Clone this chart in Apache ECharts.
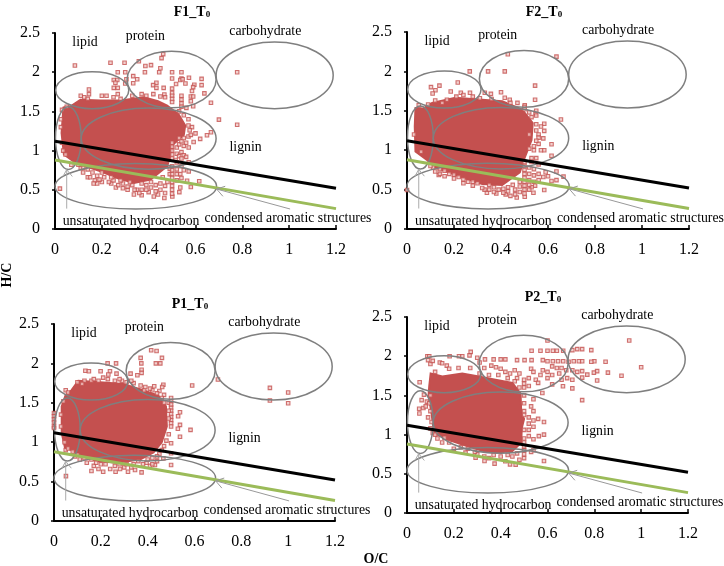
<!DOCTYPE html>
<html><head><meta charset="utf-8">
<style>html,body{margin:0;padding:0;background:#fff}#c{width:724px;height:566px}</style>
<script src="https://cdn.jsdelivr.net/npm/echarts@6/dist/echarts.min.js"></script>
</head><body><div id="c"></div>
<script>
// Values. The solid core of each van Krevelen cloud cannot be resolved
// into individual formulas, so it is a traced outline (xxCloud); xxPoints/xxEdge are squares read by eye.
const f1Cloud = [[.036,1.55],[.07,1.57],[.109,1.65],[.195,1.64],[.28,1.64],[.379,1.68],[.44,1.63],[.479,1.575],[.528,1.46],[.556,1.32],[.55,1.2],[.505,1.08],[.495,.95],[.479,.8],[.408,.63],[.337,.587],[.266,.65],[.195,.736],[.131,.8],[.088,.843],[.038,.95],[.028,1.225]];
const f2Cloud = [[.036,1.536],[.07,1.53],[.107,1.6],[.206,1.664],[.305,1.643],[.405,1.62],[.49,1.515],[.535,1.345],[.53,1.13],[.5,.9],[.48,.72],[.405,.56],[.32,.57],[.249,.64],[.178,.72],[.121,.78],[.085,.877],[.036,.983],[.033,1.3]];
const p1Cloud = [[.05,1.6],[.075,1.66],[.104,1.78],[.196,1.76],[.296,1.74],[.381,1.66],[.445,1.59],[.478,1.455],[.482,1.2],[.46,1.0],[.425,.87],[.367,.78],[.267,.74],[.182,.76],[.125,.82],[.075,.9],[.047,.93],[.033,1.115],[.033,1.455]];
const p2Cloud = [[.095,1.62],[.101,1.78],[.151,1.74],[.236,1.78],[.307,1.74],[.378,1.7],[.45,1.66],[.485,1.523],[.488,1.268],[.5,1.2],[.49,1.08],[.488,.9],[.45,.79],[.38,.77],[.336,.78],[.25,.86],[.179,.93],[.115,1.02],[.105,1.268],[.092,1.5]];

const f1Points = [[.085,2.085],[.237,2.12],[.297,2.12],[.358,2.14],[.462,2.23],[.455,2.18],[.45,2.05],[.445,2],[.386,2.08],[.41,2.09],[.384,2],[.268,2],[.3,2],[.334,1.95],[.351,1.91],[.334,1.86],[.305,1.91],[.3,1.855],[.251,1.9],[.266,1.9],[.258,1.865],[.251,1.8],[.268,1.8],[.268,1.72],[.145,1.78],[.145,1.72],[.5,2],[.54,2],[.5,1.92],[.54,1.92],[.535,1.9],[.545,1.91],[.572,1.93],[.626,1.915],[.626,1.835],[.595,1.84],[.59,1.81],[.557,1.855],[.517,1.85],[.638,1.73],[.585,1.76],[.58,1.69],[.58,1.63],[.59,1.69],[.5,1.79],[.5,1.735],[.5,1.7],[.5,1.66],[.5,1.62],[.464,1.8],[.467,1.715],[.433,1.865],[.419,1.835],[.433,1.8],[.666,1.61],[.7,1.395],[.778,1.33],[.778,2],[.666,1.235],[.649,1.195],[.592,1.11],[.571,1.04],[.59,1.565],[.561,1.545],[.571,.85],[.616,.61],[.571,.735],[.564,.615],[.58,.535],[.535,.53],[.531,.47],[.501,.415],[.467,.395],[.422,.415],[.337,.44],[.021,.515]];
const f1Edge = [[.54,1.7],[.54,1.65],[.54,1.6],[.54,1.56],[.53,1.5],[.55,1.45],[.57,1.4],[.57,1.32],[.585,1.3],[.575,1.26],[.54,.98],[.55,.94],[.56,.92],[.54,.8],[.55,.75],[.535,.7],[.54,.65],[.5,.5],[.5,.45],[.47,.46],[.44,.44],[.4,.47],[.37,.43],[.35,.5],[.31,.5],[.29,.52],[.26,.53],[.24,.58],[.2,.6],[.18,.58],[.17,.62],[.14,.66],[.12,.72],[.11,.78],[.07,.82],[.045,.95],[.11,1.7],[.125,1.68],[.14,1.66],[.2,1.7],[.22,1.7],[.25,1.68],[.28,1.66],[.33,1.7],[.37,1.72],[.39,1.7],[.42,1.72],[.45,1.69],[.47,1.68],[.03,1.52],[.05,1.56],[.025,1.4],[.025,1.3],[.03,1.1],[.035,1],[.49,.77],[.49,.7],[.5,.8],[.5,.75],[.5,.7],[.5,.65],[.5,.6],[.5,.55],[.52,.76],[.52,.7],[.52,.62],[.48,.6],[.46,.66],[.47,.55],[.45,.58],[.45,.5],[.43,.56],[.43,.48],[.41,.53],[.41,.6],[.39,.5],[.39,.56],[.37,.5],[.37,.58],[.36,.46],[.34,.5],[.33,.56],[.32,.6],[.31,.54],[.29,.58],[.28,.62],[.27,.56],[.25,.62],[.24,.66],[.23,.6],[.21,.66],[.2,.72],[.19,.63],[.18,.68],[.16,.72],[.15,.66],[.14,.76],[.12,.78],[.1,.82],[.165,.58],[.5,.9],[.5,.95],[.5,1],[.5,1.05],[.5,1.1],[.52,1.04],[.53,1.08],[.54,1.12],[.52,.96],[.53,.93],[.54,.9],[.515,.88],[.52,.85],[.55,1.06],[.56,1.1],[.53,1.16],[.55,1.16],[.57,1.18],[.58,1.2],[.6,1.22],[.62,1.15]];
const f2Points = [[.429,2.217],[.636,2.187],[.267,2],[.345,2],[.416,2],[.545,1.82],[.545,1.64],[.216,1.86],[.138,1.82],[.102,1.8],[.121,1.76],[.109,1.72],[.186,1.745],[.229,1.73],[.268,1.73],[.331,1.73],[.357,1.715],[.4,1.735],[.416,1.665],[.437,1.64],[.47,1.6],[.501,1.57],[.547,1.47],[.655,1.39],[.584,1.335],[.584,1.245],[.615,1.075],[.584,1],[.57,1],[.615,.93],[.666,.665],[.636,.73],[.636,.62],[.615,.61],[.584,.495],[.538,.46],[.501,.41],[.467,.4],[0,.495],[.135,.685],[.111,.78]];
const f2Edge = [[.55,1.5],[.55,1.44],[.56,1.2],[.56,1.16],[.56,1.08],[.58,1.15],[.56,.82],[.59,.72],[.58,.66],[.6,.67],[.545,.55],[.53,.53],[.44,.42],[.42,.44],[.38,.45],[.34,.46],[.33,.5],[.28,.55],[.24,.58],[.2,.64],[.16,.67],[.14,.7],[.05,1.57],[.12,1.63],[.15,1.6],[.17,1.64],[.21,1.68],[.24,1.7],[.28,1.68],[.31,1.66],[.36,1.65],[.44,1.6],[.09,1.58],[.06,.98],[.03,1.2],[.5,.45],[.5,.5],[.5,.55],[.5,.6],[.5,.65],[.5,.7],[.5,.75],[.5,.8],[.5,.85],[.5,1.55],[.52,.5],[.52,.56],[.52,.62],[.52,.7],[.52,.78],[.54,.6],[.54,.68],[.54,.76],[.56,.62],[.56,.7],[.48,.47],[.48,.54],[.48,.6],[.46,.44],[.46,.5],[.45,.56],[.43,.48],[.43,.53],[.41,.46],[.41,.51],[.39,.5],[.37,.47],[.37,.53],[.35,.5],[.35,.56],[.32,.52],[.3,.58],[.28,.6],[.26,.6],[.24,.63],[.22,.66],[.2,.69],[.18,.7],[.16,.74],[.14,.76],[.12,.73],[.1,.8],[.53,.85],[.53,.9],[.55,.9],[.54,1],[.52,1.02],[.54,1.05],[.55,1.12],[.52,1.2],[.55,1.25],[.55,1.33],[.57,1.3],[.53,1.42],[.52,1.48],[.5,1.52]];
const p1Points = [[.415,2.166],[.438,2.157],[.461,2.07],[.435,2],[.454,2],[.37,2.07],[.373,2],[.374,1.92],[.374,1.88],[.356,1.85],[.327,1.87],[.229,2],[.265,2],[.134,1.906],[.149,1.9],[.199,1.9],[.239,1.9],[.267,1.87],[.232,1.86],[.59,1.72],[.7,1.795],[.922,1.69],[1,1.63],[.922,1.53],[1,1.494],[.583,1.157],[.538,1.38],[.53,1.33],[.538,1.22],[.529,1.17],[.538,1.07],[.5,1.56],[.467,1.73],[.462,1.7],[.428,1.71],[.385,1.66],[.5,.987],[.5,.71],[.467,.795],[.431,.71],[.41,.7],[.374,.617],[.346,.647],[.316,.625],[.282,.66],[.263,.625],[.21,.625],[.16,.634],[.051,.57],[0,1.37],[0,1.33],[0,1.29],[0,1.25],[0,1.2],[0,1.18]];
const p1Edge = [[.5,1.44],[.5,1.4],[.5,1.36],[.5,1.32],[.5,1.28],[.5,1.24],[.5,1.2],[.5,.86],[.45,.85],[.42,.72],[.395,.74],[.33,.68],[.3,.68],[.24,.66],[.19,.66],[.17,.7],[.14,.74],[.11,.78],[.09,.82],[.05,.9],[.05,1.66],[.06,1.63],[.13,1.78],[.16,1.78],[.19,1.78],[.23,1.8],[.26,1.78],[.29,1.78],[.31,1.76],[.34,1.75],[.37,1.72],[.42,1.66],[.47,1.6],[.45,1.65],[.49,1.5],[.49,1.4],[.49,1.3],[.49,1.1],[.48,1.02],[.47,.95],[.46,.9],[.44,.82],[.4,.78],[.38,.72],[.36,.76],[.34,.72],[.31,.72],[.28,.72],[.26,.7],[.22,.72],[.2,.72],[.18,.74],[.16,.78],[.13,.8],[.1,.84],[.08,.88],[.06,.92],[.045,1],[.03,1.2],[.03,1.35],[.04,1.52],[.1,1.76],[.12,1.74],[.5,1.52],[.5,1.48],[.39,1.7],[.41,1.68],[.33,1.78],[.28,1.8],[.21,1.82],[.17,1.8],[.44,1.62],[.46,1.56],[.47,1.5],[.42,.8],[.44,.76]];
const p2Points = [[.949,2.2],[1,1.86],[.916,1.75],[.6,2.2],[.787,2.077],[.748,2.09],[.727,2.09],[.706,2.077],[.667,2.07],[.64,2.07],[.623,2.07],[.6,2.07],[.57,2.07],[.532,2.07],[.848,1.93],[.8,1.936],[.787,1.93],[.748,1.936],[.734,1.936],[.712,1.936],[.69,1.93],[.667,1.936],[.645,1.936],[.623,1.936],[.6,1.936],[.58,1.95],[.532,1.95],[.502,1.95],[.47,1.95],[.42,1.96],[.4,1.96],[.37,1.96],[.333,1.96],[.272,2.055],[.267,2.01],[.236,2],[.222,2],[.182,2],[.087,2],[.095,2],[.09,1.95],[.858,1.79],[.812,1.81],[.798,1.79],[.812,1.69],[.77,1.765],[.748,1.81],[.727,1.8],[.706,1.82],[.748,1.727],[.706,1.7],[.684,1.72],[.666,1.617],[.706,1.59],[.748,1.44],[.578,1.53],[.054,1.668],[.585,1.16],[.585,1],[.563,.98],[.585,.664],[.464,.617],[.44,.62],[.374,.63],[.331,.664],[.293,.706],[.053,1.27],[.052,1.33],[.0625,1.44],[.0725,1.51],[.07,1.34],[.08,1.36],[.085,1.42]];
const p2Edge = [[.09,1.22],[.1,1.08],[.11,1.02],[.14,1.92],[.15,1.91],[.17,1.88],[.1,1.9],[.11,1.94],[.3,1.98],[.31,1.92],[.33,1.85],[.36,1.88],[.38,1.86],[.4,1.84],[.42,1.8],[.44,1.78],[.46,1.82],[.48,1.78],[.47,1.72],[.5,1.7],[.52,1.62],[.5,1.65],[.5,1.6],[.52,1.72],[.53,1.84],[.54,1.8],[.55,1.7],[.56,1.66],[.57,1.76],[.58,1.82],[.6,1.8],[.6,1.72],[.62,1.64],[.62,1.76],[.64,1.85],[.65,1.78],[.66,1.7],[.62,1.87],[.66,1.85],[.68,1.82],[.54,1.45],[.53,1.36],[.54,1.3],[.56,1.2],[.54,.8],[.53,.78],[.5,.7],[.48,.68],[.42,.66],[.35,.7],[.3,.75],[.25,.77],[.2,.82],[.15,.9],[.13,.95],[.12,1.8],[.18,1.84],[.22,1.85],[.27,1.85],[.5,1.5],[.5,1.4],[.5,1.3],[.5,1.25],[.52,1.22],[.54,1.18],[.52,1.14],[.5,1.06],[.52,1.06],[.54,1.1],[.52,.98],[.54,.94],[.5,.95],[.5,.9],[.5,.85],[.5,.8],[.5,.75],[.47,.76],[.45,.72],[.43,.74],[.4,.72],[.37,.74],[.33,.72],[.29,.78],[.26,.82],[.23,.84],[.18,.9],[.16,.96],[.12,1],[.31,1.78],[.35,1.76],[.39,1.76],[.43,1.72],[.46,1.68],[.48,1.6],[.1,1.5],[.095,1.4],[.1,1.3],[.105,1.16]];
const panelClouds = [f1Cloud,f2Cloud,p1Cloud,p2Cloud];
const panelPoints = [f1Points.concat(f1Edge),f2Points.concat(f2Edge),p1Points.concat(p1Edge),p2Points.concat(p2Edge)];

const regionEllipses = [[.938,1.96,.25,.425],[.498,1.906,.19,.36],[.159,1.77,.156,.235],[.4,1.153,.288,.39],[.057,1.16,.055,.4],[.345,.545,.345,.29]];
const blackLine = [[0,1.12],[1.2,.52]];
const greenLine = [[0,.88],[1.2,.26]];
const arrowLipid = [[.05,.26],[.05,.757]];
const arrowLipidHead = [[.034,.67],[.05,.757],[.074,.67]];
const arrowAromatic = [[1.004,.255],[.69,.51]];
const arrowAromaticHead = [[.727,.545],[.69,.51],[.717,.417]];
const regionLabels = [['lipid',.128,2.375,'center'],['protein',.386,2.46,'center'],['carbohydrate',.898,2.52,'center'],['lignin',.814,1.047,'center'],['unsaturated hydrocarbon',.325,.098,'center'],['condensed aromatic structures',.638,.14,'left']];
const panelTitles = ['F1_T','F2_T','P1_T','P2_T'];

const frames = [
 {l:55,r:336,t:33,b:229,tx:187,ty:7},
 {l:407,r:689,t:32,b:229,tx:539,ty:7},
 {l:54,r:335,t:324,b:521,tx:185,ty:299},
 {l:407,r:688,t:317,b:513,tx:538,ty:292}
];
const serif = '"Liberation Serif","Times New Roman",serif';
const grid=[],xAxis=[],yAxis=[],series=[],title=[];
frames.forEach((f,i)=>{
  grid.push({left:f.l,top:f.t,width:f.r-f.l,height:f.b-f.t});
  xAxis.push({gridIndex:i,type:'value',min:0,max:1.2,interval:.2,splitLine:{show:false},
    axisLine:{onZero:false,lineStyle:{color:'#000',width:2}},axisTick:{inside:true,length:4,lineStyle:{color:'#000',width:1.5}},
    axisLabel:{color:'#000',fontFamily:serif,fontSize:16,margin:13}});
  yAxis.push({gridIndex:i,type:'value',min:0,max:2.5,interval:.5,splitLine:{show:false},
    axisLine:{onZero:false,lineStyle:{color:'#000',width:2}},axisTick:{inside:false,length:3,lineStyle:{color:'#000',width:1.5}},
    axisLabel:{color:'#000',fontFamily:serif,fontSize:16,margin:15}});
  title.push({text:'{a|'+panelTitles[i]+'}{s|0}',left:f.tx,top:f.ty,textAlign:'center',textVerticalAlign:'middle',
    textStyle:{rich:{a:{fontFamily:serif,fontSize:14,fontWeight:'bold',color:'#000'},s:{fontFamily:serif,fontSize:9,fontWeight:'bold',color:'#000',verticalAlign:'bottom',padding:[6,0,0,0]}}}});
  const base={xAxisIndex:i,yAxisIndex:i,silent:true,animation:false};
  const cloud=panelClouds[i];
  series.push({...base,type:'custom',data:[0],clip:false,z:2,renderItem:(p,api)=>({type:'polygon',
    shape:{points:cloud.map(c=>api.coord(c))},style:{fill:'#c4504f',stroke:'#c4504f',lineWidth:2}})});
  series.push({...base,type:'scatter',data:panelPoints[i],symbol:'rect',symbolSize:3.5,clip:false,z:3,large:false,
    itemStyle:{color:'#efc4c2',borderColor:'#c4504f',borderWidth:1.1}});
  series.push({...base,type:'custom',data:regionEllipses,clip:false,z:4,renderItem:(p,api)=>{
    const c=api.coord([api.value(0),api.value(1)]),e=api.coord([api.value(0)+api.value(2),api.value(1)+api.value(3)]);
    return {type:'ellipse',shape:{cx:c[0],cy:c[1],rx:Math.abs(e[0]-c[0]),ry:Math.abs(e[1]-c[1])},style:{fill:'none',stroke:'#7f7f7f',lineWidth:1.5}};}});
  [[blackLine,'#000',3],[greenLine,'#9bbb59',3],[arrowLipid,'#aaa',1],[arrowLipidHead,'#aaa',1],[arrowAromatic,'#999',1],[arrowAromaticHead,'#999',1]].forEach(([d,col,w])=>{
    series.push({...base,type:'line',data:d,symbol:'none',clip:false,z:5,lineStyle:{color:col,width:w}});});
  series.push({...base,type:'custom',data:regionLabels.map(r=>[r[1],r[2]]),clip:false,z:6,renderItem:(p,api)=>{
    const c=api.coord([api.value(0),api.value(1)]),r=regionLabels[p.dataIndex];
    return {type:'text',x:c[0],y:c[1],style:{text:r[0],textAlign:r[3],textVerticalAlign:'middle',font:'13.8px '+serif,fill:'#000'}};}});
});
const chart=echarts.init(document.getElementById('c'),null,{renderer:'canvas'});
chart.setOption({animation:false,backgroundColor:'#fff',title,grid,xAxis,yAxis,series,
 graphic:[
  {type:'text',x:7,y:275,rotation:Math.PI/2,style:{text:'H/C',font:'bold 14px '+serif,fill:'#000',textAlign:'center',textVerticalAlign:'middle'}},
  {type:'text',x:376,y:559,style:{text:'O/C',font:'bold 14px '+serif,fill:'#000',textAlign:'center',textVerticalAlign:'middle'}}
 ]});
</script></body></html>
